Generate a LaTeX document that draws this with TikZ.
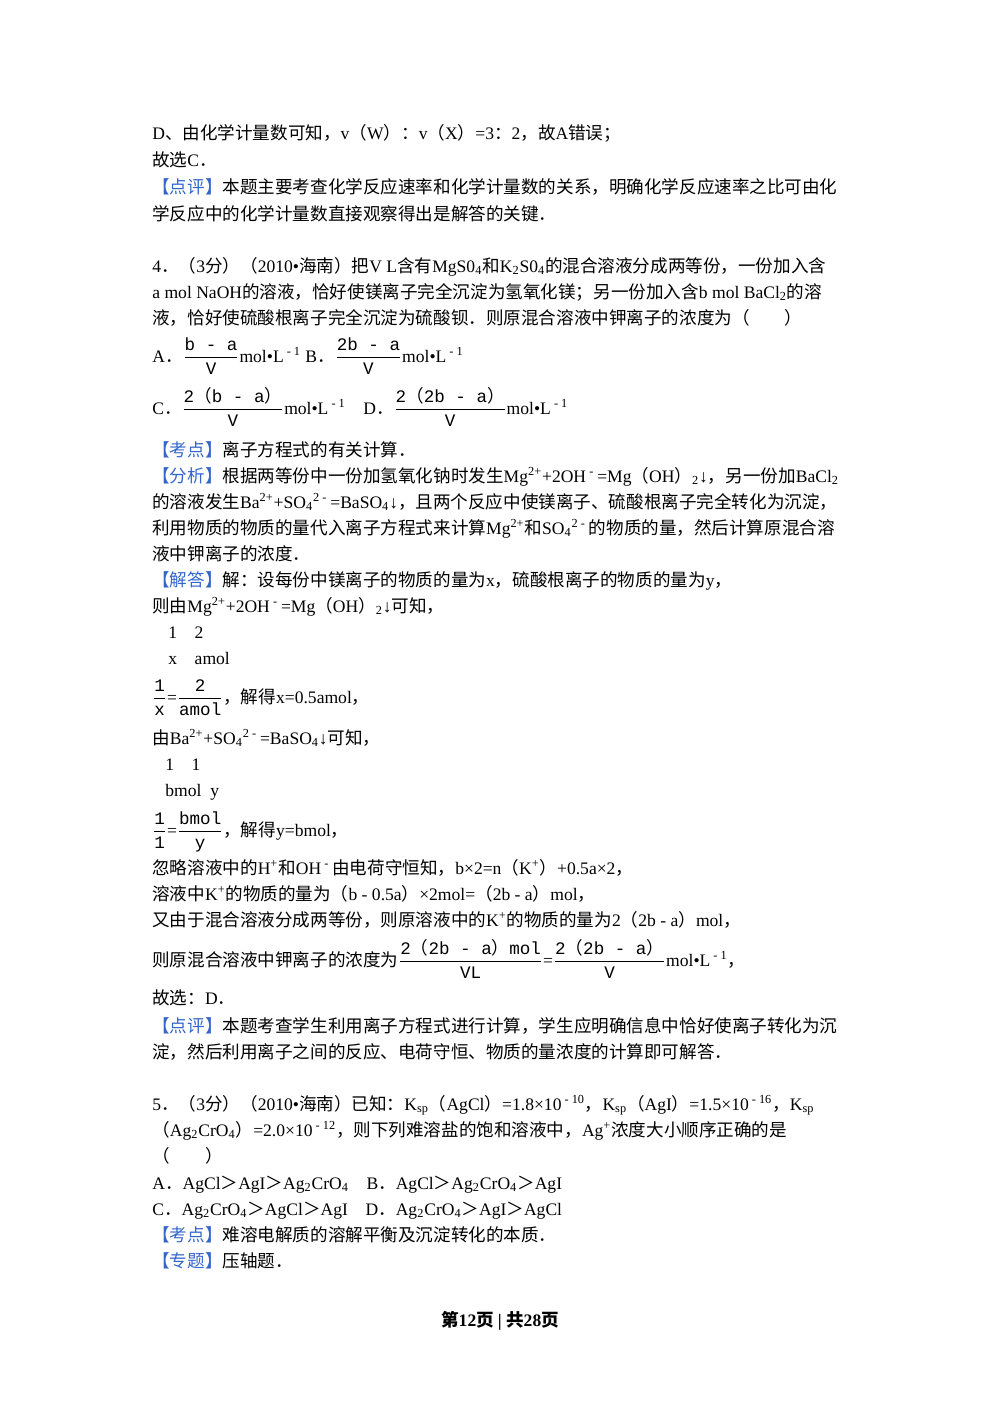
\documentclass[tikz,border=0pt]{standalone}
\usepackage{fontspec}
\usepackage{amsmath}
\setmainfont{Liberation Serif}
\newfontfamily\cjk{Noto Sans CJK SC}
\newfontfamily\latin{Liberation Serif}
\newfontfamily\mono{Liberation Mono}
\XeTeXinterchartokenstate=1
\newXeTeXintercharclass\CJKcls
\count255="3000
\loop \XeTeXcharclass\count255=\CJKcls \advance\count255 1 \ifnum\count255<"A000 \repeat
\count255="FF00
\loop \XeTeXcharclass\count255=\CJKcls \advance\count255 1 \ifnum\count255<"FFF0 \repeat
\XeTeXinterchartoks 0 \CJKcls={\cjk}
\XeTeXinterchartoks \CJKcls 0={\latin}
\XeTeXinterchartoks 4095 \CJKcls={\cjk}
\XeTeXinterchartoks 4095 0={\latin}
\newcommand{\up}[1]{\textsuperscript{#1}}
\newcommand{\dn}[1]{\textsubscript{#1}}
\newcommand{\mf}[1]{\hbox{\XeTeXinterchartokenstate=0 \mono #1}}
\newcommand{\fr}[2]{$\displaystyle\frac{\mf{#1}}{\mf{#2}}$}
\newcommand{\lp}{{\cjk （}}
\newcommand{\rp}{{\cjk ）}}
\newcommand{\lbl}[1]{\textcolor{tagblue}{【#1】}}
\definecolor{tagblue}{rgb}{0.2,0.4,0.8}
\begin{document}
\begin{tikzpicture}[x=0.02cm,y=-0.02cm,
  t/.style={anchor=base west,inner sep=0pt,font=\fontsize{10pt}{12pt}\selectfont}]
\useasboundingbox[fill=white] (0,0) rectangle (1000,1414);
\node[t] (l1) at (152,139) {D、由化学计量数可知，v（W）：v（X）=3：2，故A错误；};
\node[t] (l2) at (152,166) {故选C．};
\node[t] (l3) at (152,193) {\lbl{点评}本题主要考查化学反应速率和化学计量数的关系，明确化学反应速率之比可由化};
\node[t] (l4) at (152,220) {学反应中的化学计量数直接观察得出是解答的关键．};
\node[t] (l5) at (152,272) {4．（3分）（2010•海南）把V L含有MgS0\dn{4}和K\dn{2}S0\dn{4}的混合溶液分成两等份，一份加入含};
\node[t] (l6) at (152,298) {a mol NaOH的溶液，恰好使镁离子完全沉淀为氢氧化镁；另一份加入含b mol BaCl\dn{2}的溶};
\node[t] (l7) at (152,324) {液，恰好使硫酸根离子完全沉淀为硫酸钡．则原混合溶液中钾离子的浓度为（　　）};
\node[t] (l8) at (152,362) {A．\fr{b - a}{V}mol•L\up{ - 1} B．\fr{2b - a}{V}mol•L\up{ - 1}};
\node[t] (l9) at (152,414) {C．\fr{2\lp b - a\rp}{V}mol•L\up{ - 1}\quad D．\fr{2\lp 2b - a\rp}{V}mol•L\up{ - 1}};
\node[t] (l10) at (152,456) {\lbl{考点}离子方程式的有关计算．};
\node[t] (l11) at (152,482) {\lbl{分析}根据两等份中一份加氢氧化钠时发生Mg\up{2+}+2OH\up{ - }=Mg（OH）\dn{2}↓，另一份加BaCl\dn{2}};
\node[t] (l12) at (152,508) {的溶液发生Ba\up{2+}+SO\dn{4}\up{2 - }=BaSO\dn{4}↓，且两个反应中使镁离子、硫酸根离子完全转化为沉淀，};
\node[t] (l13) at (152,534) {利用物质的物质的量代入离子方程式来计算Mg\up{2+}和SO\dn{4}\up{2 - }的物质的量，然后计算原混合溶};
\node[t] (l14) at (152,560) {液中钾离子的浓度．};
\node[t] (l15) at (152,586) {\lbl{解答}解：设每份中镁离子的物质的量为x，硫酸根离子的物质的量为y，};
\node[t] (l16) at (152,612) {则由Mg\up{2+}+2OH\up{ - }=Mg（OH）\dn{2}↓可知，};
\node[t] (l17) at (168,638) {1\quad 2};
\node[t] (l18) at (168,664) {x\quad amol};
\node[t] (l19) at (152,703) {\fr{1}{x}=\fr{2}{amol}，解得x=0.5amol，};
\node[t] (l20) at (152,744) {由Ba\up{2+}+SO\dn{4}\up{2 - }=BaSO\dn{4}↓可知，};
\node[t] (l21) at (165,770) {1\quad 1};
\node[t] (l22) at (165,796) {bmol\enspace y};
\node[t] (l23) at (152,836) {\fr{1}{1}=\fr{bmol}{y}，解得y=bmol，};
\node[t] (l24) at (152,874) {忽略溶液中的H\up{+}和OH\up{ - }由电荷守恒知，b×2=n（K\up{+}）+0.5a×2，};
\node[t] (l25) at (152,900) {溶液中K\up{+}的物质的量为（b - 0.5a）×2mol=（2b - a）mol，};
\node[t] (l26) at (152,926) {又由于混合溶液分成两等份，则原溶液中的K\up{+}的物质的量为2（2b - a）mol，};
\node[t] (l27) at (152,966) {则原混合溶液中钾离子的浓度为\fr{2\lp 2b - a\rp mol}{VL}=\fr{2\lp 2b - a\rp}{V}mol•L\up{ - 1}，};
\node[t] (l28) at (152,1004) {故选：D．};
\node[t] (l29) at (152,1032) {\lbl{点评}本题考查学生利用离子方程式进行计算，学生应明确信息中恰好使离子转化为沉};
\node[t] (l30) at (152,1058) {淀，然后利用离子之间的反应、电荷守恒、物质的量浓度的计算即可解答．};
\node[t] (l31) at (152,1110) {5．（3分）（2010•海南）已知：K\dn{sp}（AgCl）=1.8×10\up{ - 10}，K\dn{sp}（AgI）=1.5×10\up{ - 16}，K\dn{sp}};
\node[t] (l32) at (152,1136) {（Ag\dn{2}CrO\dn{4}）=2.0×10\up{ - 12}，则下列难溶盐的饱和溶液中，Ag\up{+}浓度大小顺序正确的是};
\node[t] (l33) at (152,1162) {（　　）};
\node[t] (l34) at (152,1189) {A．AgCl＞AgI＞Ag\dn{2}CrO\dn{4}\quad B．AgCl＞Ag\dn{2}CrO\dn{4}＞AgI};
\node[t] (l35) at (152,1215) {C．Ag\dn{2}CrO\dn{4}＞AgCl＞AgI\quad D．Ag\dn{2}CrO\dn{4}＞AgI＞AgCl};
\node[t] (l36) at (152,1241) {\lbl{考点}难溶电解质的溶解平衡及沉淀转化的本质．};
\node[t] (l37) at (152,1267) {\lbl{专题}压轴题．};
\node[anchor=base,inner sep=0pt,font=\fontsize{10pt}{12pt}\selectfont\bfseries] (foot) at (500,1326) {第12页 | 共28页};
\end{tikzpicture}
\end{document}
